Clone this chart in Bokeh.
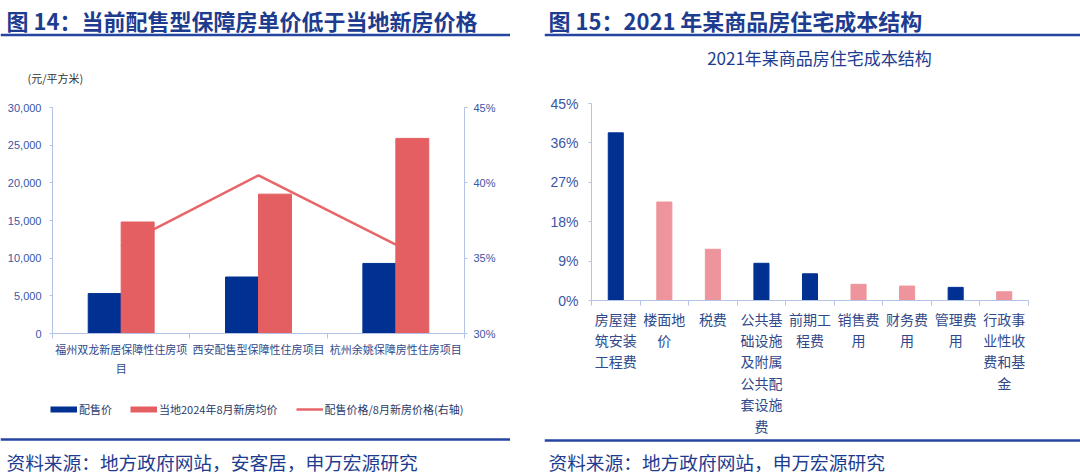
from bokeh.plotting import figure
from bokeh.models import (Range1d, LinearAxis, FixedTicker, NumeralTickFormatter,
                          PrintfTickFormatter, Legend, LegendItem, Label, Span)
from bokeh.layouts import row, column
from bokeh.embed import file_html
from bokeh.resources import INLINE

# ---------------- data ----------------
# Figure 14
projects = ["福州双龙新居保障性住房项目", "西安配售型保障性住房项目", "杭州余姚保障房性住房项目"]
project_labels = ["福州双龙新居保障性住房项\n目", "西安配售型保障性住房项目", "杭州余姚保障房性住房项目"]
sale_price = [5300, 7500, 9300]          # 配售价 (元/平方米)
new_home_price = [14800, 18500, 25900]   # 当地2024年8月新房均价
price_ratio = [35.8, 40.5, 35.9]         # 配售价格/8月新房价格 (%)
left_ticks = [0, 5000, 10000, 15000, 20000, 25000, 30000]
right_ticks = [30, 35, 40, 45]
series_names = ["配售价", "当地2024年8月新房均价", "配售价格/8月新房价格(右轴)"]

# Figure 15
cost_items = ["房屋建筑安装工程费", "楼面地价", "税费", "公共基础设施及附属公共配套设施费",
              "前期工程费", "销售费用", "财务费用", "管理费用", "行政事业性收费和基金"]
cost_share = [38.3, 22.5, 11.7, 8.5, 6.1, 3.7, 3.3, 3.0, 2.0]   # %
cost_ticks = [0, 9, 18, 27, 36, 45]

# ---------------- styles ----------------
FONT = "Noto Sans CJK SC"
NUMFONT = "Liberation Sans"
NAVY = "#1D3C8F"
RULE = "#2446A0"
AXIS = "#B4C2E6"
TICK_TXT = "#3A56A5"
CAT_TXT = "#2F4A8A"
BLUE = "#003192"
RED = "#E45F62"
LINE_RED = "#E8656A"
PINK = "#EE949C"
cost_colors = [BLUE, PINK, PINK, BLUE, BLUE, PINK, PINK, BLUE, PINK]
NAN = float("nan")

W1, W2 = 510, 536
GAP = 34


def deco(width, height):
    p = figure(width=width, height=height, x_range=Range1d(0, width),
               y_range=Range1d(height, 0), x_axis_type=None, y_axis_type=None,
               toolbar_location=None, output_backend="svg", min_border=0,
               outline_line_color=None, frame_align=False)
    p.grid.visible = False
    return p


def label(p, x, y, text, size, color=NAVY, style="normal", align="left", font=FONT):
    p.add_layout(Label(x=x, y=y, text=text, text_font=font, text_font_size=size,
                       text_font_style=style, text_color=color, text_align=align,
                       text_baseline="middle"))


def style_axis(ax, size, color=TICK_TXT, font=NUMFONT):
    ax.axis_line_color = AXIS
    ax.major_tick_line_color = AXIS
    ax.minor_tick_line_color = AXIS
    ax.major_label_text_font = font
    ax.major_label_text_font_size = size
    ax.major_label_text_color = color


# ================= Figure 14 =================
h1 = deco(W1, 90)
label(h1, 6, 19, "图 14：当前配售型保障房单价低于当地新房价格", "22px", style="bold")
h1.add_layout(Span(location=34.5, dimension="width", line_color=RULE, line_width=2.5))
label(h1, 27, 77, "(元/平方米)", "11px", color="#333333")

n1 = len(projects)
centers1 = [i + 0.5 for i in range(n1)]
bounds1 = [i for i in range(n1 + 1)]

p1 = figure(width=W1, height=290, x_range=Range1d(0, n1), y_range=Range1d(0, 30000),
            toolbar_location=None, output_backend="svg", x_axis_type=None, y_axis_type=None,
            min_border_left=52, min_border_right=46, min_border_top=17, min_border_bottom=47,
            outline_line_color=None, frame_align=False)
p1.extra_y_ranges = {"ratio": Range1d(30, 45)}
p1.grid.visible = False

ax_l = LinearAxis(ticker=FixedTicker(ticks=left_ticks), formatter=NumeralTickFormatter(format="0,0"),
                  major_tick_out=3, major_tick_in=0, minor_tick_out=0, minor_tick_in=0,
                  major_label_standoff=8)
style_axis(ax_l, "11px")
p1.add_layout(ax_l, "left")

ax_r = LinearAxis(y_range_name="ratio", ticker=FixedTicker(ticks=right_ticks),
                  formatter=PrintfTickFormatter(format="%d%%"),
                  major_tick_out=3, major_tick_in=0, minor_tick_out=0, minor_tick_in=0,
                  major_label_standoff=6)
style_axis(ax_r, "11px")
p1.add_layout(ax_r, "right")

ax_b = LinearAxis(ticker=FixedTicker(ticks=centers1, minor_ticks=bounds1),
                  major_label_overrides={c: lab for c, lab in zip(centers1, project_labels)},
                  major_tick_out=0, major_tick_in=0, minor_tick_out=5, minor_tick_in=0,
                  major_label_standoff=2)
style_axis(ax_b, "11px", color=CAT_TXT, font=FONT)
ax_b.major_label_text_line_height = 1.19
p1.add_layout(ax_b, "below")

p1.line(x=centers1, y=price_ratio, y_range_name="ratio", line_color=LINE_RED, line_width=2.5)
p1.vbar(x=[c - 0.12 for c in centers1], top=sale_price, width=0.24,
        fill_color=BLUE, line_color=BLUE)
p1.vbar(x=[c + 0.12 for c in centers1], top=new_home_price, width=0.24,
        fill_color=RED, line_color=RED)

# legend + source block (legend keys only, no data drawn here)
g1 = deco(W1, 94)
k_sale = g1.line(x=[NAN], y=[NAN], line_color=BLUE, line_width=6, line_cap="butt")
k_new = g1.line(x=[NAN], y=[NAN], line_color=RED, line_width=6, line_cap="butt")
k_ratio = g1.line(x=[NAN], y=[NAN], line_color=LINE_RED, line_width=2.5, line_cap="butt")
legend1 = Legend(items=[LegendItem(label=series_names[0], renderers=[k_sale]),
                        LegendItem(label=series_names[1], renderers=[k_new]),
                        LegendItem(label=series_names[2], renderers=[k_ratio])],
                 orientation="horizontal", location=(50, 57), margin=0, padding=0, spacing=18,
                 glyph_width=27, glyph_height=16, label_height=16, label_standoff=2,
                 label_text_font=FONT, label_text_font_size="11px", label_text_color="#2B3A67",
                 border_line_color=None, background_fill_alpha=0)
g1.add_layout(legend1)
g1.add_layout(Span(location=59, dimension="width", line_color=RULE, line_width=2.5))
label(g1, 6, 81, "资料来源：地方政府网站，安客居，申万宏源研究", "18.7px")

# ================= Figure 15 =================
h2 = deco(W2, 85)
label(h2, 4, 19, "图 15：2021 年某商品房住宅成本结构", "22px", style="bold")
h2.add_layout(Span(location=34.5, dimension="width", line_color=RULE, line_width=2.5))
label(h2, 275, 57, "2021年某商品房住宅成本结构", "17px", align="center")

n2 = len(cost_items)
centers2 = [i + 0.5 for i in range(n2)]
bounds2 = [i for i in range(n2 + 1)]
wrapped = ["\n".join(s[k:k + 3] for k in range(0, len(s), 3)) for s in cost_items]

p2 = figure(width=W2, height=353, x_range=Range1d(0, n2), y_range=Range1d(0, 45),
            toolbar_location=None, output_backend="svg", x_axis_type=None, y_axis_type=None,
            min_border_left=47, min_border_right=52, min_border_top=18, min_border_bottom=138,
            outline_line_color=None, frame_align=False)
p2.grid.visible = False

ay2 = LinearAxis(ticker=FixedTicker(ticks=cost_ticks), formatter=PrintfTickFormatter(format="%d%%"),
                 major_tick_out=3, major_tick_in=0, minor_tick_out=0, minor_tick_in=0,
                 major_label_standoff=10)
style_axis(ay2, "14px")
p2.add_layout(ay2, "left")

ax2 = LinearAxis(ticker=FixedTicker(ticks=centers2, minor_ticks=bounds2),
                 major_label_overrides={c: lab for c, lab in zip(centers2, wrapped)},
                 major_tick_out=0, major_tick_in=0, minor_tick_out=5, minor_tick_in=0,
                 major_label_standoff=3)
style_axis(ax2, "14px", color=CAT_TXT, font=FONT)
ax2.major_label_text_line_height = 1.07
p2.add_layout(ax2, "below")

p2.vbar(x=centers2, top=cost_share, width=0.31, fill_color=cost_colors, line_color=cost_colors)

f2 = deco(W2, 36)
f2.add_layout(Span(location=2, dimension="width", line_color=RULE, line_width=2.5))
label(f2, 4, 23, "资料来源：地方政府网站，申万宏源研究", "18.7px")

layout = row(column(h1, p1, g1), column(h2, p2, f2), spacing=GAP)
open("out.html", "w").write(file_html(layout, INLINE))
